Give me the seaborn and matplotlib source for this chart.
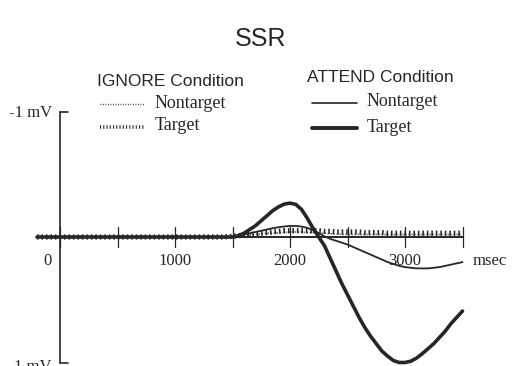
import numpy as np
import pandas as pd
import matplotlib
matplotlib.use("Agg")
import matplotlib.pyplot as plt
import seaborn as sns
from matplotlib.lines import Line2D

# ---- data (mV, negative plotted upward), time in msec ----
time_ms = [-200, -100, 0, 100, 200, 300, 400, 500, 600, 700, 800, 900, 1000,
           1100, 1200, 1300, 1400,
           1500, 1550, 1600, 1650, 1700, 1750, 1800, 1850, 1900, 1950,
           2000, 2050, 2100, 2150, 2200, 2250, 2300, 2350, 2400, 2450,
           2500, 2550, 2600, 2650, 2700, 2750, 2800, 2850, 2900, 2950,
           3000, 3050, 3100, 3150, 3200, 3250, 3300, 3350, 3400, 3450, 3500]

attend_target = [0.0, 0.0, 0.0, 0.0, 0.0, 0.0, 0.0, 0.0, 0.0, 0.0, 0.0,
                 0.0, 0.0, 0.0, 0.0, 0.0, 0.0,
                 0.0, -0.01, -0.03, -0.06, -0.09, -0.13, -0.17, -0.21, -0.24, -0.262,
                 -0.27, -0.26, -0.22, -0.15, -0.07, 0.0, 0.07, 0.17, 0.27, 0.37,
                 0.46, 0.55, 0.64, 0.72, 0.79, 0.85, 0.91, 0.95, 0.985, 1.0,
                 1.0, 0.99, 0.965, 0.93, 0.89, 0.85, 0.80, 0.75, 0.69, 0.64, 0.59]

attend_nontarget = [0.0, 0.0, 0.0, 0.0, 0.0, 0.0, 0.0, 0.0, 0.0, 0.0, 0.0,
                    0.0, 0.0, 0.0, 0.0, 0.0, 0.0,
                    0.0, -0.01, -0.02, -0.03, -0.04, -0.05, -0.06, -0.07, -0.078, -0.084,
                    -0.088, -0.088, -0.083, -0.073, -0.055, -0.03, -0.005, 0.015, 0.03, 0.045,
                    0.06, 0.08, 0.10, 0.12, 0.14, 0.16, 0.18, 0.20, 0.215, 0.23,
                    0.24, 0.245, 0.25, 0.25, 0.25, 0.245, 0.24, 0.23, 0.22, 0.21, 0.20]

ignore_target = [0.0, 0.0, 0.0, 0.0, 0.0, 0.0, 0.0, 0.0, 0.0, 0.0, 0.0,
                 0.0, 0.0, 0.0, 0.0, 0.0, 0.0,
                 -0.005, -0.01, -0.015, -0.02, -0.025, -0.03, -0.035, -0.04, -0.045, -0.05,
                 -0.05, -0.05, -0.05, -0.05, -0.05, -0.05, -0.045, -0.045, -0.04, -0.04,
                 -0.04, -0.04, -0.04, -0.035, -0.035, -0.035, -0.035, -0.03, -0.03, -0.03,
                 -0.03, -0.03, -0.03, -0.03, -0.03, -0.03, -0.03, -0.03, -0.03, -0.03, -0.03]

ignore_nontarget = [0.0, 0.0, 0.0, 0.0, 0.0, 0.0, 0.0, 0.0, 0.0, 0.0, 0.0,
                    0.0, 0.0, 0.0, 0.0, 0.0, 0.0,
                    0.0, -0.005, -0.01, -0.015, -0.02, -0.025, -0.03, -0.03, -0.035, -0.035,
                    -0.04, -0.04, -0.04, -0.035, -0.035, -0.03, -0.03, -0.025, -0.025, -0.02,
                    -0.02, -0.02, -0.02, -0.02, -0.02, -0.02, -0.02, -0.02, -0.02, -0.02,
                    -0.02, -0.02, -0.02, -0.02, -0.02, -0.02, -0.02, -0.02, -0.02, -0.02, -0.02]

x_ticks = [0, 500, 1000, 1500, 2000, 2500, 3000, 3500]
x_labels = {0: "0", 1000: "1000", 2000: "2000", 3000: "3000"}
title = "SSR"

# ---- figure ----
sns.set_theme(style="white")
plt.rcParams["font.family"] = ["Liberation Serif", "DejaVu Serif"]
W, H = 516, 366
fig = plt.figure(figsize=(W / 100, H / 100), dpi=100)
ax = fig.add_axes([0, 0, 1, 1])
ax.set_axis_off()

# pixel mapping: x_px = 60 + ms*0.115 ; y_px = 237 + mV*125.5
ax.set_xlim((0 - 60) / 0.115, (W - 60) / 0.115)
ax.set_ylim((H - 237) / 125.5, (0 - 237) / 125.5)

ink = "#262626"

# axes lines
ax.plot([-200, 3500], [0, 0], color=ink, lw=1.4, solid_capstyle="butt")
ax.plot([0, 0], [-1, 1], color=ink, lw=1.2)
for yv in (-1, 1):
    ax.plot([0, 70], [yv, yv], color=ink, lw=1.2)
for t in x_ticks:
    ax.plot([t, t], [-0.08, 0.08], color=ink, lw=0.9)

df = pd.DataFrame({"time": time_ms,
                   "at": attend_target, "an": attend_nontarget,
                   "it": ignore_target, "inn": ignore_nontarget})

sns.lineplot(data=df, x="time", y="inn", ax=ax, color=ink, lw=1.2,
             linestyle=(0, (0.6, 1.2)), legend=False)
sns.lineplot(data=df, x="time", y="it", ax=ax, color=ink, lw=3.8,
             linestyle=(0, (0.3, 0.55)), legend=False)
sns.lineplot(data=df, x="time", y="an", ax=ax, color=ink, lw=1.3, legend=False)
sns.lineplot(data=df, x="time", y="at", ax=ax, color=ink, lw=2.6, legend=False)
ax.set_axis_off()

# tick labels
for t, lab in x_labels.items():
    xp = 48 if t == 0 else 60 + t * 0.115
    fig.text(xp / W, 1 - 261 / H, lab, ha="center", va="center",
             fontsize=12, color=ink)
fig.text(490 / W, 1 - 261 / H, "msec", ha="center", va="center",
         fontsize=12, color=ink)
fig.text(52 / W, 1 - 113 / H, "-1 mV", ha="right", va="center",
         fontsize=12, color=ink)
fig.text(52 / W, 1 - 367 / H, "1 mV", ha="right", va="center",
         fontsize=12, color=ink)

# title
fig.text(261 / W, 1 - 39 / H, title, ha="center", va="center", fontsize=18,
         color=ink, family=["Liberation Sans", "DejaVu Sans"])

# legends
fig.text(170 / W, 1 - 82 / H, "IGNORE Condition", ha="center", va="center",
         fontsize=12.5, color=ink, family=["Liberation Sans", "DejaVu Sans"])
fig.text(380 / W, 1 - 78 / H, "ATTEND Condition", ha="center", va="center",
         fontsize=12.5, color=ink, family=["Liberation Sans", "DejaVu Sans"])

leg_rows = [
    (100, 145, 104, 155, "Nontarget", dict(lw=1.0, ls=(0, (0.6, 1.2)))),
    (100, 145, 127, 155, "Target", dict(lw=2.6, ls=(0, (0.3, 0.6)))),
    (312, 357, 103, 367, "Nontarget", dict(lw=1.2, ls="-")),
    (312, 357, 128, 367, "Target", dict(lw=2.8, ls="-")),
]
for x0, x1, yp, xt, lab, st in leg_rows:
    fig.add_artist(Line2D([x0 / W, x1 / W], [1 - yp / H, 1 - yp / H],
                          color=ink, linewidth=st["lw"], linestyle=st["ls"],
                          transform=fig.transFigure))
    fig.text(xt / W, 1 - (yp - 1) / H, lab, ha="left", va="center",
             fontsize=13, color=ink)

fig.savefig("out.png", dpi=100, facecolor="white")
